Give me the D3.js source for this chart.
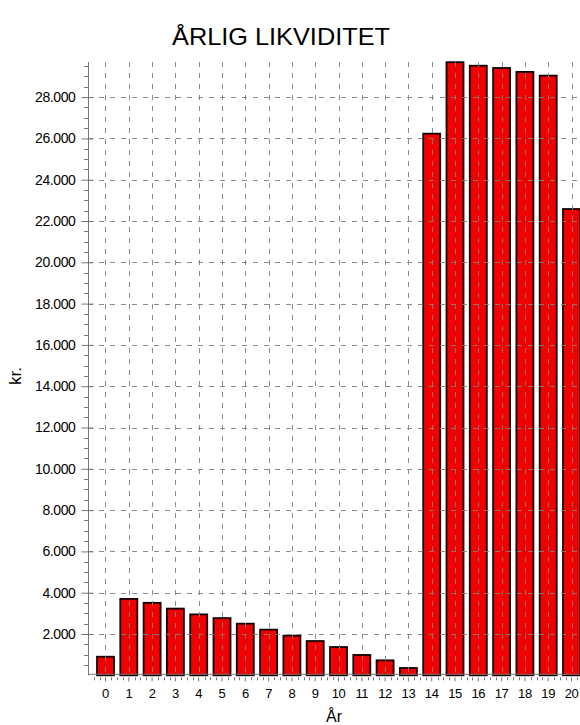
<!DOCTYPE html>
<html>
<head>
<meta charset="utf-8">
<script src="https://cdn.jsdelivr.net/npm/d3@7"></script>
<style>
  html, body { margin: 0; padding: 0; background: #fff; }
  svg { display: block; }
  text { font-family: "Liberation Sans", Arial, sans-serif; fill: #000; }
</style>
</head>
<body>
<svg id="chart" width="580" height="725"></svg>
<script>
const title = "ÅRLIG LIKVIDITET";
const xTitle = "År";
const yTitle = "kr.";
const years = ["0","1","2","3","4","5","6","7","8","9","10","11","12","13","14","15","16","17","18","19","20"];
const values = [900, 3700, 3510, 3230, 2950, 2770, 2500, 2210, 1920, 1660, 1370, 985, 725, 355,
                26230, 29690, 29520, 29410, 29220, 29040, 22580];
const yTickValues = [2000,4000,6000,8000,10000,12000,14000,16000,18000,20000,22000,24000,26000,28000];
const yMinorStep = 500;
const yMax = 29700;

const svg = d3.select("#chart");
const pLeft = 88, pBottom = 675.3, pTop = 62, pRight = 580;

const x = d3.scaleBand().domain(years).range([93.85, 583.15]).paddingInner(0.27).paddingOuter(0.135);
const y = d3.scaleLinear().domain([0, yMax]).range([pBottom, pTop]);
const fmt = v => d3.format(",")(v).replace(/,/g, ".");

// Title
svg.append("text").attr("x", 281).attr("y", 45).attr("text-anchor", "middle")
  .attr("font-size", 24).attr("fill", "#1a1a1a")
  .attr("textLength", 218).attr("lengthAdjust", "spacingAndGlyphs")
  .text(title);

// Bars
svg.append("g").selectAll("rect").data(values).join("rect")
  .attr("x", (d, i) => x(years[i]))
  .attr("width", x.bandwidth())
  .attr("y", d => y(d))
  .attr("height", d => y(0) - y(d))
  .attr("fill", "#f00000")
  .attr("stroke", "#140000")
  .attr("stroke-width", 1.8);

// Grid (drawn over bars)
const grid = svg.append("g").attr("stroke", "#808080").attr("stroke-width", 1)
  .attr("stroke-dasharray", "5,6").attr("opacity", 0.9);
grid.selectAll("line.h").data(yTickValues).join("line").attr("class", "h")
  .attr("x1", pLeft).attr("x2", pRight)
  .attr("y1", d => Math.round(y(d)) + 0.5).attr("y2", d => Math.round(y(d)) + 0.5);
grid.selectAll("line.v").data(years).join("line").attr("class", "v")
  .attr("x1", d => Math.round(x(d) + x.bandwidth() / 2) + 0.5)
  .attr("x2", d => Math.round(x(d) + x.bandwidth() / 2) + 0.5)
  .attr("y1", pTop).attr("y2", pBottom);

// Y axis
const yAxis = d3.axisLeft(y).tickValues(yTickValues).tickFormat(fmt).tickSize(6).tickPadding(7);
const gy = svg.append("g").attr("transform", `translate(${pLeft + 0.5},0)`).call(yAxis);
gy.select(".domain").attr("stroke", "#777").attr("d", `M0,${pTop}V${pBottom}`);
gy.selectAll(".tick line").attr("stroke", "#777").attr("x2", -7).attr("x1", 5);
gy.selectAll(".tick text").attr("font-size", 14).attr("letter-spacing", -0.4)
  .attr("font-family", "'Liberation Sans', Arial, sans-serif").attr("fill", "#111");
const minorY = d3.range(yMinorStep, yMax, yMinorStep).filter(v => v % 2000 !== 0);
svg.append("g").selectAll("line").data(minorY).join("line")
  .attr("x1", pLeft - 4).attr("x2", pLeft + 0.5)
  .attr("y1", d => Math.round(y(d)) + 0.5).attr("y2", d => Math.round(y(d)) + 0.5)
  .attr("stroke", "#777");

// X axis
const xAxis = d3.axisBottom(x).tickSize(5).tickPadding(9);
const gx = svg.append("g").attr("transform", `translate(0,${pBottom - 1})`).call(xAxis);
gx.select(".domain").attr("stroke", "#777").attr("d", `M${pLeft},0H${pRight}`);
gx.selectAll(".tick line").attr("stroke", "#777").attr("y1", 3).attr("y2", 7);
gx.selectAll(".tick text").attr("font-size", 13).attr("letter-spacing", -0.4)
  .attr("font-family", "'Liberation Sans', Arial, sans-serif").attr("fill", "#111");
const minorX = [];
years.forEach(c => { [-0.5, -0.25, 0.25].forEach(f => minorX.push(x(c) + x.bandwidth() / 2 + f * x.step())); });
svg.append("g").selectAll("line").data(minorX.filter(v => v > pLeft && v < pRight)).join("line")
  .attr("x1", d => Math.round(d) + 0.5).attr("x2", d => Math.round(d) + 0.5)
  .attr("y1", pBottom + 2).attr("y2", pBottom + 5).attr("stroke", "#777");

// Axis titles
svg.append("text").attr("transform", "translate(21,376) rotate(-90)").attr("text-anchor", "middle")
  .attr("font-size", 17).text(yTitle);
svg.append("text").attr("x", 334).attr("y", 722).attr("text-anchor", "middle")
  .attr("font-size", 16).text(xTitle);
</script>
</body>
</html>
